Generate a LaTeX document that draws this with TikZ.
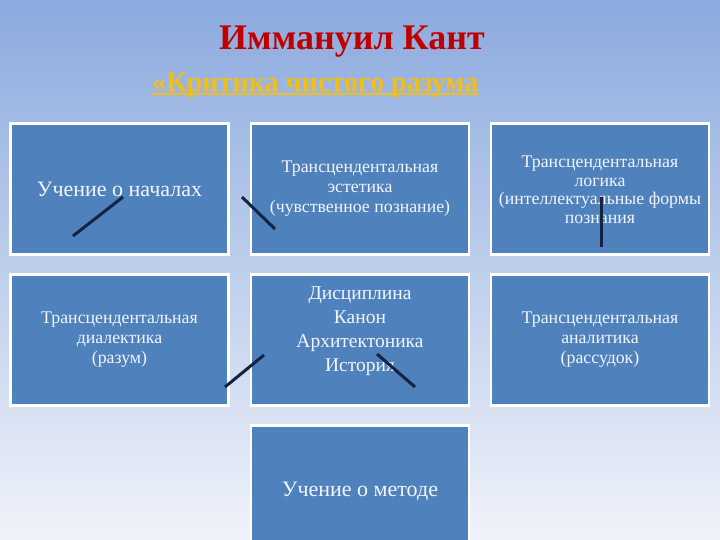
\documentclass[tikz,border=0pt]{standalone}
\usepackage{fontspec}
\setmainfont{Liberation Serif}
\definecolor{bgtop}{RGB}{140,170,222}
\definecolor{bgbot}{RGB}{240,243,250}
\definecolor{boxblue}{RGB}{79,129,189}
\definecolor{titlered}{RGB}{192,0,0}
\definecolor{subgold}{RGB}{245,190,20}
\definecolor{strokenavy}{RGB}{20,35,65}
\definecolor{txtwhite}{RGB}{242,245,250}
\tikzset{
  box/.style={rectangle, fill=boxblue, draw=white, line width=2.2pt,
    minimum width=218pt, minimum height=131pt, inner sep=0pt},
  txt/.style={text=txtwhite, align=center, inner sep=0pt},
  stroke/.style={draw=strokenavy, line width=3pt}
}
\begin{document}
\begin{tikzpicture}[x=1pt,y=-1pt]
\useasboundingbox (0,0) rectangle (720,540);
\clip (0,0) rectangle (720,540);
\shade[top color=bgtop, bottom color=bgbot] (0,0) rectangle (720,540);

\node[text=titlered, font=\fontsize{36}{40}\selectfont\bfseries, inner sep=0pt] (title) at (352,42) {Иммануил Кант};
\node[text=subgold, font=\fontsize{28.2}{32}\selectfont\bfseries, inner sep=0pt, anchor=base west] (sub) at (152,92) {«Критика чистого разума};
\draw[subgold, line width=2pt] ([yshift=-2.5pt]sub.base west) -- ([yshift=-2.5pt]sub.base east);

\node[box] (b1) at (119.5,189) {};
\node[box] (b2) at (360,189) {};
\node[box] (b3) at (600,189) {};
\node[box] (b4) at (119.5,340) {};
\node[box] (b5) at (360,340) {};
\node[box] (b6) at (600,340) {};
\node[box] (b7) at (360,491) {};

\node[txt, font=\fontsize{22}{26}\selectfont] (t1) at (b1.center) {Учение о началах};
\node[txt, font=\fontsize{17.8}{20}\selectfont] (t2) at (b2.center) {Трансцендентальная\\эстетика\\(чувственное познание)};
\node[txt, font=\fontsize{17.8}{18.5}\selectfont] (t3) at ([yshift=-1pt]b3.center) {Трансцендентальная\\логика\\(интеллектуальные формы\\познания};
\node[txt, font=\fontsize{17.8}{20}\selectfont] (t4) at (b4.center) {Трансцендентальная\\диалектика\\(разум)};
\node[txt, font=\fontsize{19.5}{24}\selectfont] (t5) at ([yshift=9pt]b5.center) {Дисциплина\\Канон\\Архитектоника\\История};
\node[txt, font=\fontsize{17.8}{20}\selectfont] (t6) at (b6.center) {Трансцендентальная\\аналитика\\(рассудок)};
\node[txt, font=\fontsize{22}{26}\selectfont] (t7) at (b7.center) {Учение о методе};

\coordinate (s1a) at (73,236);   \coordinate (s1b) at (123,197);
\coordinate (s2a) at (242,197);  \coordinate (s2b) at (275,229);
\coordinate (s3a) at (601.5,197); \coordinate (s3b) at (601.5,247);
\coordinate (s4a) at (225,387);  \coordinate (s4b) at (264,355);
\coordinate (s5a) at (377,354);  \coordinate (s5b) at (415,387);
\draw[stroke] (s1a) -- (s1b);
\draw[stroke] (s2a) -- (s2b);
\draw[stroke] (s3a) -- (s3b);
\draw[stroke] (s4a) -- (s4b);
\draw[stroke] (s5a) -- (s5b);
\end{tikzpicture}
\end{document}
